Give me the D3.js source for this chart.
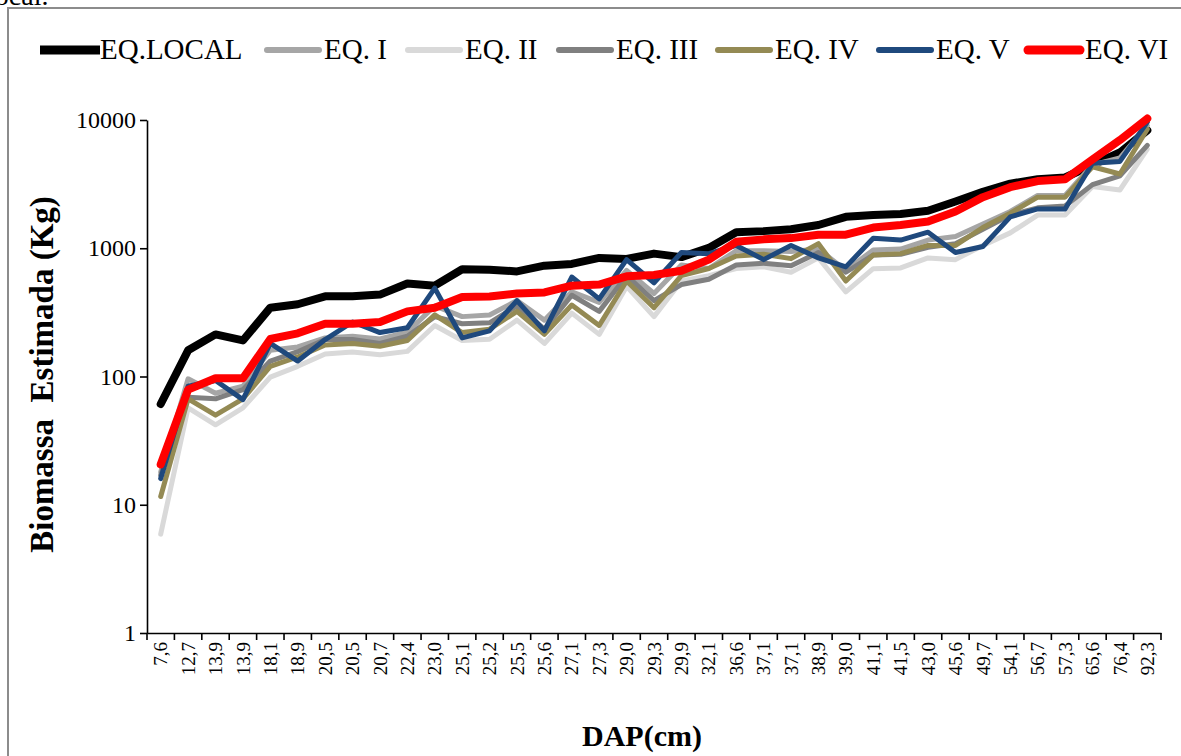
<!DOCTYPE html>
<html>
<head>
<meta charset="utf-8">
<script src="https://cdn.jsdelivr.net/npm/d3@7"></script>
<style>
  body { margin: 0; background: #fff; }
  svg { display: block; font-family: "Liberation Serif", "Times New Roman", serif; }
</style>
</head>
<body>
<div id="chart"></div>
<script>
// DAP (cm) categories
const dap = ["7,6","12,7","13,9","13,9","18,1","18,9","20,5","20,5","20,7","22,4","23,0","25,1","25,2","25,5","25,6","27,1","27,3","29,0","29,3","29,9","32,1","36,6","37,1","37,1","38,9","39,0","41,1","41,5","43,0","45,6","49,7","54,1","56,7","57,3","65,6","76,4","92,3"];

// estimated biomass (kg) per equation
const eqLocal = [61,160,213,191,344,366,422,422,435,531,511,686,680,660,731,755,841,826,908,853,1006,1334,1360,1406,1517,1758,1815,1850,1960,2315,2754,3191,3450,3562,4460,5580,8300];
const eqI = [18,96,74,84,160,170,200,206,196,222,355,293,302,391,275,458,378,673,444,740,695,956,956,944,986,672,968,986,1159,1236,1546,1936,2583,2583,4460,5070,9020];
const eqII = [5.9,57,42,57,99,120,150,155,148,157,250,191,195,275,181,312,213,504,293,555,611,695,717,650,841,457,693,703,841,815,1052,1318,1815,1815,3034,2845,5940];
const eqIII = [17,69,67,79,132,156,194,194,181,206,293,258,262,355,234,430,322,611,391,521,573,740,764,730,926,650,885,897,1018,1087,1406,1815,2065,2132,3133,3675,6340];
const eqIV = [11.6,67,50,67,120,142,176,181,172,191,302,220,234,322,213,361,250,555,344,611,695,869,897,830,1087,555,885,908,1052,1052,1451,1876,2502,2502,4317,3795,8470];
const eqV = [16,84,93,66,181,132,194,266,220,240,489,200,227,391,227,596,403,815,538,926,907,1052,815,1052,841,716,1197,1159,1334,926,1032,1758,2025,2025,4605,4755,9620];
const eqVI = [20.6,79,97,97,196,217,258,258,266,322,344,416,420,444,452,511,521,604,619,668,815,1122,1173,1200,1276,1276,1451,1517,1618,1936,2502,2993,3343,3450,4910,6980,10260];

const seriesNames = ["EQ.LOCAL","EQ. I","EQ. II","EQ. III","EQ. IV","EQ. V","EQ. VI"];
const seriesValues = [eqLocal, eqI, eqII, eqIII, eqIV, eqV, eqVI];
const seriesColors = ["#000000","#a6a6a6","#d9d9d9","#808080","#948a54","#1f497d","#ff0000"];
const seriesWidths = [8, 5, 5, 5, 5, 5, 8];
const yTicks = [1, 10, 100, 1000, 10000];

const width = 1181, height = 756;
const plot = { left: 147, right: 1161, top: 120, bottom: 633 };
// where each legend entry starts
const legendX = [40, 264, 405, 556, 715, 876, 1025];

const svg = d3.select("#chart").append("svg")
  .attr("width", width)
  .attr("height", height);

// cut-off caption from the page above + frame
svg.append("text")
  .attr("x", -13).attr("y", 5)
  .style("font-size", "28px")
  .text("local.");

svg.append("rect")
  .attr("x", 8).attr("y", 8)
  .attr("width", width + 20).attr("height", height + 20)
  .attr("fill", "none")
  .attr("stroke", "#8c8c8c")
  .attr("stroke-width", 2);

const xScale = d3.scaleBand()
  .domain(d3.range(dap.length))
  .range([plot.left, plot.right]);

const yScale = d3.scaleLog()
  .domain([1, 10000])
  .range([plot.bottom, plot.top]);

// y axis
const yAxis = svg.append("g")
  .attr("transform", `translate(${plot.left},0)`)
  .call(d3.axisLeft(yScale).tickValues(yTicks).tickFormat(d3.format("d")).tickSize(7).tickSizeOuter(0).tickPadding(4));
yAxis.select(".domain").attr("stroke-width", 1.6);
yAxis.selectAll(".tick line").attr("stroke-width", 1.6);
yAxis.selectAll("text")
  .style("font-family", "Liberation Serif")
  .style("font-size", "24px")
  .attr("fill", "#000");

// x axis: labels centered in bands, ticks at band edges
const xAxis = svg.append("g")
  .attr("transform", `translate(0,${plot.bottom})`)
  .call(d3.axisBottom(xScale).tickFormat(i => dap[i]).tickSize(0).tickSizeOuter(0));
xAxis.select(".domain").attr("stroke-width", 1.6);
xAxis.selectAll("text")
  .style("font-family", "Liberation Serif")
  .style("font-size", "19px")
  .attr("fill", "#000")
  .attr("transform", "rotate(-90)")
  .attr("x", -9)
  .attr("y", 0)
  .attr("dy", "0.35em")
  .style("text-anchor", "end");

const edges = d3.range(dap.length).map(i => xScale(i)).concat([xScale.range()[1]]);
xAxis.selectAll(".edge")
  .data(edges)
  .join("line")
  .attr("class", "edge")
  .attr("x1", d => d).attr("x2", d => d)
  .attr("y1", 0).attr("y2", 7)
  .attr("stroke", "#000")
  .attr("stroke-width", 1.6);

// lines
const line = d3.line()
  .x((d, i) => xScale(i) + xScale.bandwidth() / 2)
  .y(d => yScale(d));

svg.append("g")
  .selectAll("path")
  .data(seriesValues)
  .join("path")
  .attr("d", d => line(d))
  .attr("fill", "none")
  .attr("stroke", (d, i) => seriesColors[i])
  .attr("stroke-width", (d, i) => seriesWidths[i])
  .attr("stroke-linejoin", "round")
  .attr("stroke-linecap", "round");

// axis titles
svg.append("text")
  .attr("transform", `translate(53,${(plot.top + plot.bottom) / 2 - 2}) rotate(-90)`)
  .attr("text-anchor", "middle")
  .style("font-size", "33px")
  .style("font-weight", "bold")
  .style("white-space", "pre")
  .text("Biomassa  Estimada (Kg)");

svg.append("text")
  .attr("x", 642).attr("y", 746)
  .attr("text-anchor", "middle")
  .style("font-size", "30px")
  .style("font-weight", "bold")
  .text("DAP(cm)");

// legend
const legend = svg.append("g");
seriesNames.forEach((name, i) => {
  const lx = legendX[i];
  legend.append("line")
    .attr("x1", lx + (i === 0 ? 0 : 3)).attr("x2", lx + (i === 0 ? 60 : 55))
    .attr("y1", 50).attr("y2", 50)
    .attr("stroke", seriesColors[i])
    .attr("stroke-width", i === 0 ? 9 : seriesWidths[i] + 1)
    .attr("stroke-linecap", i === 0 ? "butt" : "round");
  legend.append("text")
    .attr("x", lx + 60)
    .attr("y", 59)
    .style("font-size", "29px")
    .text(name);
});
</script>
</body>
</html>
